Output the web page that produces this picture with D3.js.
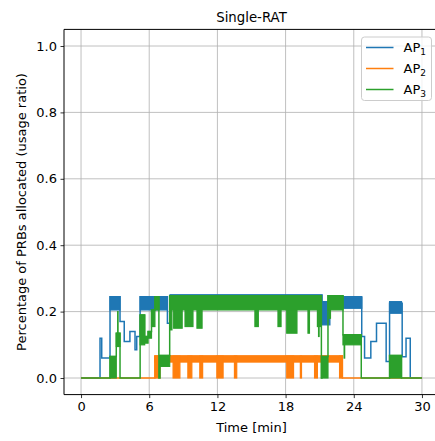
<!DOCTYPE html>
<html>
<head>
<meta charset="utf-8">
<script src="https://cdn.jsdelivr.net/npm/d3@7"></script>
<style>
  body { margin: 0; background: #fff; }
  text { font-family: "DejaVu Sans", sans-serif; fill: #000; }
</style>
</head>
<body>
<svg id="chart" width="435" height="441"></svg>
<script>
// x ticks in minutes, y ticks as usage ratio
const xTicks = [0, 6, 12, 18, 24, 30];
const yTicks = [0, 0.2, 0.4, 0.6, 0.8, 1.0];
const seriesNames = ["1", "2", "3"];
const seriesColors = ["#1f77b4", "#ff7f0e", "#2ca02c"];

// step lines: [time, value]
const ap1Steps = [[0, 0], [1.67, 0.12], [1.82, 0.06], [2.55, 0.245], [3.43, 0.17], [3.8, 0.11], [4.3, 0.14],
  [4.75, 0.085], [4.9, 0.125], [5.2, 0.245], [7.6, 0.165], [7.85, 0.25], [21.2, 0.23], [21.9, 0.245],
  [24.7, 0.125], [24.95, 0.06], [25.5, 0.11], [26.0, 0.165], [26.85, 0.05], [27.15, 0.225],
  [28.26, 0.064], [28.6, 0.12], [28.97, 0], [30, 0]];
const ap2Steps = [[0, 0], [6.5, 0.066], [23.0, 0], [30, 0]];
const ap3Steps = [[0, 0], [2.55, 0.065], [3.1, 0.135], [3.43, 0], [5.2, 0.19], [5.6, 0.125], [5.9, 0.14],
  [6.2, 0.205], [6.5, 0.245], [6.85, 0], [6.95, 0.068], [7.8, 0.248], [21.15, 0], [21.2, 0.065],
  [21.73, 0.248], [23.05, 0.13], [24.66, 0], [27.15, 0.068], [28.2, 0], [30, 0]];

// fast switching regions: [t0, t1, low, high]
const ap1Bands = [[2.55, 3.43, 0.205, 0.245], [5.2, 7.6, 0.205, 0.245], [7.85, 21.2, 0.21, 0.25],
  [21.2, 21.9, 0.16, 0.23], [21.9, 23.0, 0.21, 0.248], [23.0, 24.7, 0.21, 0.242], [27.15, 28.2, 0.195, 0.23]];
const ap2Bands = [[6.5, 23.0, 0.048, 0.066],
  [6.5, 6.95, 0, 0.066], [7.2, 7.2, 0, 0.066], [8.1, 8.7, 0, 0.066], [9.4, 9.75, 0, 0.066],
  [10.2, 10.2, 0, 0.066], [10.45, 10.7, 0, 0.066], [11.15, 11.15, 0, 0.066], [11.95, 12.5, 0, 0.066],
  [13.1, 13.1, 0, 0.066], [13.5, 13.7, 0, 0.066], [14.0, 14.0, 0, 0.066], [14.56, 14.56, 0, 0.066],
  [15.6, 15.6, 0, 0.066], [16.6, 16.6, 0, 0.066], [17.2, 17.2, 0, 0.066], [17.5, 17.5, 0, 0.066],
  [18.1, 18.7, 0, 0.066], [19.3, 19.4, 0, 0.066], [19.95, 19.95, 0, 0.066], [20.55, 20.8, 0, 0.066],
  [21.2, 21.2, 0, 0.066], [22.2, 22.2, 0, 0.066], [22.75, 23.0, 0, 0.066]];
const ap3Bands = [[2.55, 3.1, 0, 0.065], [3.1, 3.43, 0.095, 0.135], [3.22, 3.26, 0.095, 0.2],
  [5.2, 5.6, 0.1, 0.19], [5.6, 5.9, 0.105, 0.125], [5.9, 6.2, 0.12, 0.14], [6.2, 6.5, 0.155, 0.205],
  [6.5, 6.85, 0.205, 0.245], [6.95, 7.8, 0.035, 0.068], [7.8, 21.15, 0.205, 0.248],
  [21.15, 21.73, 0, 0.065], [21.73, 23.05, 0.205, 0.248], [23.05, 24.66, 0.1, 0.13], [27.15, 28.2, 0, 0.068]];
// dips out of the green band: [t0, t1, low, high]
const ap3Dips = [[7.8, 8.0, 0.145, 0.205], [8.05, 8.05, 0, 0.205], [8.15, 8.9, 0.15, 0.205],
  [9.15, 9.85, 0.155, 0.205], [10.2, 10.65, 0.15, 0.205], [10.73, 10.73, 0, 0.205],
  [11.05, 11.05, 0.165, 0.205], [11.45, 11.45, 0.17, 0.205], [11.8, 11.8, 0.155, 0.205],
  [12.0, 12.0, 0.13, 0.205], [12.2, 12.2, 0.15, 0.205], [12.7, 12.7, 0.165, 0.205],
  [13.0, 13.0, 0.15, 0.205], [13.3, 13.3, 0.165, 0.205], [13.7, 13.7, 0.16, 0.205],
  [14.0, 14.0, 0.14, 0.205], [14.43, 14.43, 0, 0.205], [15.3, 15.6, 0.155, 0.205],
  [16.45, 16.45, 0.15, 0.205], [16.9, 16.9, 0.19, 0.205], [17.33, 17.6, 0.155, 0.205],
  [17.68, 17.68, 0, 0.205], [18.1, 19.0, 0.135, 0.205], [19.15, 19.15, 0.16, 0.205],
  [19.45, 19.45, 0.155, 0.205], [19.7, 19.7, 0.165, 0.205], [19.97, 20.1, 0.135, 0.205],
  [20.4, 20.4, 0.19, 0.205], [20.8, 21.15, 0.155, 0.205], [20.9, 20.95, 0.125, 0.205],
  [21.85, 21.95, 0.18, 0.205], [22.1, 22.1, 0, 0.205], [23.15, 23.2, 0.06, 0.1]];

const series = [
  { steps: ap1Steps, bands: ap1Bands },
  { steps: ap2Steps, bands: ap2Bands },
  { steps: ap3Steps, bands: ap3Bands.concat(ap3Dips) }
];

const svg = d3.select("#chart");
const plotLeft = 64, plotRight = 439, plotTop = 29.4, plotBottom = 394.6;

const x = d3.scaleLinear().domain([-1.5, 31.5]).range([plotLeft, plotRight]);
const y = d3.scaleLinear().domain([-0.05, 1.05]).range([plotBottom, plotTop]);

// grid
const grid = svg.append("g").attr("stroke", "#b0b0b0").attr("stroke-width", 0.8);
grid.selectAll(".gx").data(xTicks).enter().append("line")
  .attr("x1", d => x(d)).attr("x2", d => x(d)).attr("y1", plotTop).attr("y2", plotBottom);
grid.selectAll(".gy").data(yTicks).enter().append("line")
  .attr("x1", plotLeft).attr("x2", plotRight).attr("y1", d => y(d)).attr("y2", d => y(d));

svg.append("clipPath").attr("id", "plot-clip")
  .append("rect").attr("x", plotLeft).attr("y", plotTop)
  .attr("width", plotRight - plotLeft).attr("height", plotBottom - plotTop);

const plot = svg.append("g").attr("clip-path", "url(#plot-clip)");

const line = d3.line()
  .x(d => x(d[0]))
  .y(d => y(d[1]))
  .curve(d3.curveStepAfter);

series.forEach((s, i) => {
  const g = plot.append("g");
  g.append("path")
    .datum(s.steps)
    .attr("fill", "none")
    .attr("stroke", seriesColors[i])
    .attr("stroke-width", 1.5)
    .attr("d", line);

  g.selectAll("rect").data(s.bands).enter().append("rect")
    .attr("x", d => x(d[0]))
    .attr("width", d => x(d[1]) - x(d[0]))
    .attr("y", d => y(d[3]))
    .attr("height", d => y(d[2]) - y(d[3]))
    .attr("fill", seriesColors[i])
    .attr("stroke", seriesColors[i])
    .attr("stroke-width", 1.2);
});

// axes
const xAxis = svg.append("g")
  .attr("transform", `translate(0,${plotBottom})`)
  .call(d3.axisBottom(x).tickValues(xTicks).tickSize(3.5).tickPadding(3.5).tickFormat(d3.format("d")));
const yAxis = svg.append("g")
  .attr("transform", `translate(${plotLeft},0)`)
  .call(d3.axisLeft(y).tickValues(yTicks).tickSize(3.5).tickPadding(3.5).tickFormat(d3.format(".1f")));

[xAxis, yAxis].forEach(ax => {
  ax.select(".domain").remove();
  ax.selectAll("text").style("font-size", "13px").style("font-family", "DejaVu Sans");
  ax.selectAll("line").attr("stroke", "#000").attr("stroke-width", 0.8);
});

// spines
svg.append("path")
  .attr("d", `M${plotRight},${plotTop}H${plotLeft}V${plotBottom}H${plotRight}`)
  .attr("fill", "none")
  .attr("stroke", "#000")
  .attr("stroke-width", 1);

svg.append("text")
  .attr("x", (plotLeft + plotRight) / 2)
  .attr("y", 22)
  .attr("text-anchor", "middle")
  .style("font-size", "13.3px")
  .text("Single-RAT");

svg.append("text")
  .attr("x", x(15))
  .attr("y", 432)
  .attr("text-anchor", "middle")
  .style("font-size", "13px")
  .text("Time [min]");

svg.append("text")
  .attr("transform", `translate(26,${(plotTop + plotBottom) / 2}) rotate(-90)`)
  .attr("text-anchor", "middle")
  .style("font-size", "13px")
  .text("Percentage of PRBs allocated (usage ratio)");

// legend
const legend = svg.append("g").attr("transform", "translate(361.5,37)");
legend.append("rect")
  .attr("width", 70).attr("height", 63.5)
  .attr("rx", 3)
  .attr("fill", "#fff").attr("fill-opacity", 0.8)
  .attr("stroke", "#cccccc").attr("stroke-width", 1);

const entries = legend.selectAll(".entry").data(seriesNames).enter().append("g")
  .attr("transform", (d, i) => `translate(0,${10.5 + i * 21})`);
entries.append("line")
  .attr("x1", 4.5).attr("x2", 32)
  .attr("stroke", (d, i) => seriesColors[i])
  .attr("stroke-width", 1.5);
const label = entries.append("text")
  .attr("x", 42)
  .attr("y", 4.8)
  .style("font-size", "13px");
label.append("tspan").text("AP");
label.append("tspan").attr("dy", 3).style("font-size", "9px").text(d => d);
</script>
</body>
</html>
